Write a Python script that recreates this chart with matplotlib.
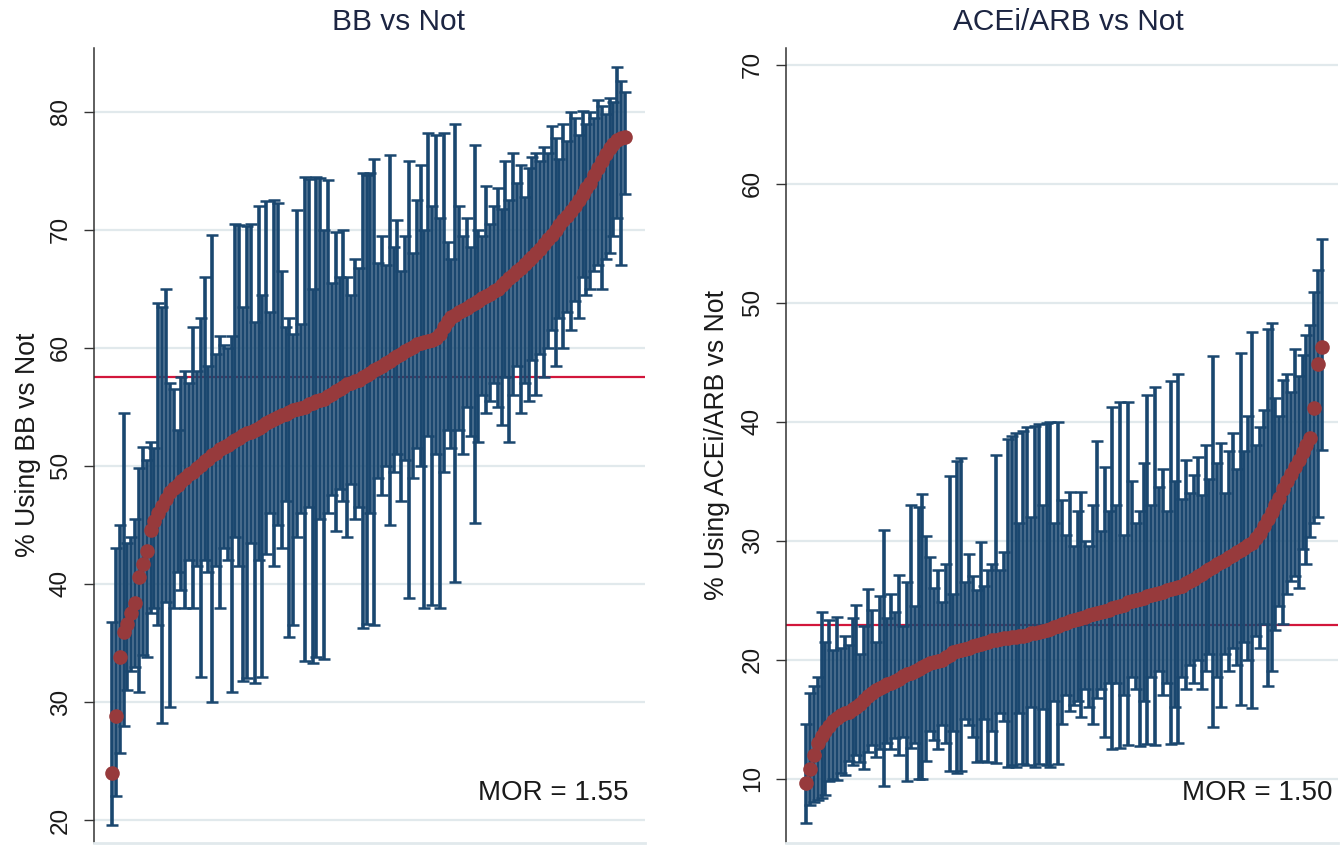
import numpy as np
import matplotlib
matplotlib.use("Agg")
import matplotlib.pyplot as plt

plt.rcParams['font.family'] = ['Liberation Sans', 'DejaVu Sans']

# hospital estimates (sorted) with 95% CI
bb_est = [24.0, 28.8, 33.8, 35.9, 36.6, 37.5, 38.4, 40.6, 41.7, 42.8,
          44.6, 45.3, 46.0, 46.6, 47.2, 47.8, 48.1, 48.4, 48.7, 49.0,
          49.3, 49.5, 49.8, 50.1, 50.4, 50.6, 50.9, 51.1, 51.4, 51.6,
          51.8, 52.0, 52.2, 52.4, 52.6, 52.8, 52.9, 53.0, 53.2, 53.4,
          53.6, 53.8, 54.0, 54.1, 54.3, 54.4, 54.6, 54.7, 54.8, 54.9,
          55.0, 55.2, 55.3, 55.5, 55.6, 55.7, 55.9, 56.1, 56.3, 56.5,
          56.7, 56.9, 57.0, 57.2, 57.3, 57.5, 57.7, 57.9, 58.1, 58.3,
          58.5, 58.7, 58.9, 59.1, 59.3, 59.5, 59.7, 59.9, 60.1, 60.3,
          60.4, 60.5, 60.6, 60.7, 60.8, 61.2, 61.8, 62.3, 62.6, 62.8,
          63.0, 63.2, 63.4, 63.6, 63.8, 64.0, 64.2, 64.4, 64.6, 64.8,
          65.0, 65.3, 65.6, 65.9, 66.2, 66.5, 66.8, 67.1, 67.4, 67.7,
          68.0, 68.4, 68.8, 69.2, 69.6, 70.0, 70.4, 70.8, 71.2, 71.6,
          72.0, 72.5, 73.0, 73.5, 74.0, 74.6, 75.2, 75.8, 76.4, 76.9,
          77.3, 77.6, 77.8, 77.9]
bb_lo = [19.6, 22.0, 25.7, 28.0, 31.0, 32.6, 33.0, 30.8, 34.0, 33.8,
         37.5, 38.0, 36.5, 28.2, 38.5, 29.6, 38.0, 41.0, 39.5, 38.0,
         42.0, 38.0, 41.5, 32.1, 42.0, 41.0, 30.0, 41.5, 38.0, 43.0,
         42.0, 30.8, 44.0, 41.5, 31.8, 32.0, 43.5, 31.6, 42.0, 32.1,
         42.5, 46.0, 41.5, 45.0, 43.0, 47.0, 35.5, 36.5, 44.0, 46.0,
         33.5, 46.5, 33.3, 33.8, 45.5, 33.6, 46.0, 47.5, 44.5, 48.0,
         47.0, 44.0, 48.5, 45.5, 46.5, 36.3, 36.6, 46.0, 36.5, 49.0,
         47.5, 50.0, 45.0, 49.5, 51.0, 47.0, 50.5, 38.8, 49.0, 51.5,
         50.0, 38.0, 52.5, 38.2, 51.0, 38.0, 49.5, 53.0, 51.5, 40.2,
         53.0, 51.0, 55.0, 52.5, 45.2, 52.0, 56.0, 54.5, 55.5, 57.0,
         55.0, 53.5, 57.5, 52.0, 56.0, 58.5, 54.5, 57.0, 55.5, 59.0,
         56.0, 59.5, 57.5, 60.0, 61.5, 58.5, 62.5, 60.0, 63.0, 61.5,
         64.0, 62.5, 66.0, 64.5, 65.0, 66.5, 67.0, 65.0, 67.5, 68.0,
         69.5, 71.0, 67.0, 73.0]
bb_hi = [36.8, 43.0, 45.0, 54.5, 43.5, 44.0, 45.5, 49.8, 51.6, 50.5,
         52.0, 51.5, 63.8, 63.5, 65.0, 57.0, 56.5, 53.0, 57.5, 58.0,
         57.0, 61.8, 58.0, 62.5, 66.0, 58.5, 69.6, 59.5, 61.0, 60.2,
         60.0, 61.0, 70.5, 70.4, 63.5, 70.3, 70.5, 62.2, 72.0, 64.5,
         72.4, 63.0, 72.5, 72.3, 66.5, 61.8, 62.5, 61.2, 71.7, 62.0,
         74.5, 74.3, 65.0, 74.5, 74.4, 70.0, 74.2, 65.5, 69.8, 66.0,
         70.0, 66.0, 64.5, 67.5, 66.8, 74.8, 74.6, 74.8, 76.0, 67.2,
         69.5, 67.0, 76.3, 68.5, 70.8, 66.5, 69.5, 75.8, 68.0, 72.5,
         75.5, 70.0, 78.2, 72.0, 78.0, 71.0, 78.2, 69.0, 67.5, 79.0,
         72.0, 69.5, 71.0, 68.5, 77.2, 70.0, 69.5, 73.7, 70.5, 72.0,
         73.5, 71.8, 75.8, 72.5, 76.5, 74.0, 75.5, 72.8, 75.2, 76.2,
         76.5, 75.8, 77.0, 76.5, 78.8, 77.8, 76.0, 79.0, 77.5, 80.0,
         79.5, 78.0, 80.1, 79.0, 80.0, 79.5, 81.0, 80.5, 79.8, 81.2,
         80.8, 83.8, 82.6, 81.7]

ace_est = [9.6, 10.8, 12.0, 13.0, 13.6, 14.0, 14.4, 14.8, 15.1, 15.3,
           15.5, 15.6, 15.8, 16.0, 16.3, 16.6, 16.9, 17.2, 17.4, 17.6,
           17.8, 17.9, 18.0, 18.2, 18.4, 18.6, 18.8, 18.9, 19.0, 19.2,
           19.4, 19.5, 19.7, 19.8, 19.9, 20.0, 20.2, 20.4, 20.6, 20.7,
           20.8, 20.9, 21.0, 21.1, 21.2, 21.3, 21.4, 21.5, 21.6, 21.6,
           21.7, 21.8, 21.8, 21.9, 21.9, 22.0, 22.0, 22.1, 22.2, 22.2,
           22.3, 22.4, 22.5, 22.6, 22.7, 22.8, 23.0, 23.1, 23.2, 23.3,
           23.4, 23.5, 23.6, 23.7, 23.8, 23.9, 24.0, 24.1, 24.2, 24.3,
           24.4, 24.5, 24.6, 24.8, 24.9, 25.0, 25.1, 25.2, 25.3, 25.4,
           25.5, 25.6, 25.7, 25.8, 25.9, 26.0, 26.1, 26.2, 26.4, 26.6,
           26.8, 27.0, 27.2, 27.4, 27.6, 27.8, 28.0, 28.2, 28.4, 28.6,
           28.8, 29.0, 29.2, 29.4, 29.6, 29.8, 30.2, 30.6, 31.2, 31.8,
           32.4, 33.0, 33.6, 34.3, 35.0, 35.6, 36.2, 36.8, 37.4, 38.0,
           38.6, 41.1, 44.8, 46.3]
ace_lo = [6.3, 7.8, 8.0, 8.2, 8.4, 8.6, 9.8, 10.0, 9.9, 10.5,
          10.3, 11.5, 11.1, 12.0, 11.4, 10.8, 12.2, 12.8, 11.8, 12.5,
          9.4, 13.0, 12.5, 13.4, 12.0, 13.5, 9.8, 12.6, 13.0, 10.0,
          10.0, 11.5, 14.0, 13.2, 12.5, 14.5, 13.0, 10.6, 14.0, 10.5,
          10.6, 15.0, 14.5, 13.5, 11.4, 11.5, 15.0, 11.4, 14.0, 11.3,
          15.5, 14.8, 11.0, 11.1, 11.0, 15.5, 11.2, 11.1, 16.0, 11.0,
          11.2, 15.8, 11.1, 11.0, 16.5, 11.2, 14.6, 17.0, 15.7, 16.2,
          16.5, 15.2, 17.5, 16.0, 14.6, 16.8, 17.5, 13.5, 18.0, 12.5,
          18.0, 12.6, 17.0, 12.8, 18.5, 17.5, 12.7, 16.5, 12.9, 18.5,
          12.8, 19.0, 17.0, 18.0, 12.9, 16.0, 13.0, 18.5, 17.5, 19.5,
          18.0, 20.0, 17.5, 19.0, 20.5, 14.3, 18.5, 16.0, 20.5, 19.0,
          21.0, 19.5, 16.2, 21.5, 20.0, 15.9, 22.0, 21.0, 23.0, 17.8,
          19.0, 22.5, 24.5, 23.0, 25.5, 26.6, 27.0, 26.0, 29.3, 28.0,
          30.3, 31.5, 32.0, 37.6]
ace_hi = [14.6, 17.2, 17.8, 18.5, 24.0, 21.5, 23.3, 20.8, 23.6, 21.0,
          22.0, 21.2, 23.5, 24.6, 20.5, 22.8, 25.9, 24.2, 21.5, 25.3,
          30.9, 23.5, 25.5, 24.0, 27.1, 22.8, 26.5, 33.0, 24.5, 32.8,
          33.9, 30.4, 28.6, 26.0, 27.5, 24.8, 28.0, 35.4, 25.5, 36.7,
          36.9, 26.5, 28.9, 27.0, 25.8, 29.9, 26.2, 27.5, 28.0, 37.2,
          27.5, 29.0, 38.5, 38.8, 39.0, 31.5, 39.2, 39.5, 32.0, 39.6,
          39.8, 33.0, 39.9, 40.0, 31.5, 40.0, 33.4, 30.5, 34.1, 29.5,
          32.5, 34.1, 30.0, 29.5, 33.0, 38.4, 30.8, 36.2, 32.5, 41.2,
          33.0, 41.6, 30.5, 41.6, 35.0, 31.5, 32.5, 36.5, 42.2, 33.0,
          42.9, 34.5, 36.0, 32.5, 43.4, 35.0, 44.0, 33.5, 36.8, 34.0,
          35.5, 37.0, 33.8, 38.0, 35.2, 45.5, 36.5, 38.2, 34.0, 37.5,
          39.0, 36.0, 45.8, 37.5, 40.5, 47.5, 38.0, 39.5, 41.0, 47.8,
          48.3, 42.0, 40.5, 43.5, 44.0, 42.5, 46.1, 43.8, 45.6, 47.3,
          48.1, 50.9, 52.7, 55.3]

panels = [
    dict(est=bb_est, lo=bb_lo, hi=bb_hi, title='BB vs Not', ylabel='% Using BB vs Not',
         ref=57.5, mor='MOR = 1.55', yticks=[20, 30, 40, 50, 60, 70, 80],
         ylim=(18.05, 85.4), px=(94, 645), data_px=(112, 625), title_x=398,
         label_x=28, mor_x=629),
    dict(est=ace_est, lo=ace_lo, hi=ace_hi, title='ACEi/ARB vs Not',
         ylabel='% Using ACEi/ARB vs Not', ref=22.9, mor='MOR = 1.50',
         yticks=[10, 20, 30, 40, 50, 60, 70], ylim=(4.58, 71.39), px=(786, 1338),
         data_px=(806, 1322), title_x=1068, label_x=717, mor_x=1332),
]

W, H = 1342, 846
navy = '#1a476f'
maroon = '#973a3c'
grid_c = '#e1e9ec'

fig = plt.figure(figsize=(W / 100, H / 100), dpi=100)

for p in panels:
    x0, x1 = p['px']
    ax = fig.add_axes([x0 / W, 3 / H, (x1 - x0) / W, 795 / H])
    est = np.array(p['est'])
    lo = np.array(p['lo'])
    hi = np.array(p['hi'])
    idx = np.arange(len(est))

    # map index range onto the pixel span the dots occupy
    d0, d1 = p['data_px']
    step = (d1 - d0) / (len(est) - 1)
    ax.set_xlim(-(d0 - x0) / step, len(est) - 1 + (x1 - d1) / step)
    ax.set_ylim(*p['ylim'])

    ax.axhline(p['ref'], color='#d2163b', lw=1.6, zorder=2)
    ax.errorbar(idx, est, yerr=[est - lo, hi - est], fmt='none', ecolor=navy,
                elinewidth=2.6, capsize=4.5, capthick=1.8, zorder=3)
    ax.plot(idx, est, 'o', color=maroon, markersize=10.5, markeredgewidth=0, zorder=4)

    ax.set_yticks(p['yticks'])
    ax.yaxis.grid(True, color=grid_c, lw=1.6)
    ax.set_axisbelow(True)
    ax.set_xticks([])
    ax.tick_params(axis='y', length=7, width=1.0, color='#333333', pad=17,
                   labelsize=17.5, labelcolor='#1a1a1a')
    for lab in ax.get_yticklabels():
        lab.set_rotation(90)
        lab.set_ha('center')
        lab.set_va('center')

    for s in ['top', 'right']:
        ax.spines[s].set_visible(False)
    ax.spines['left'].set_color('#333333')
    ax.spines['left'].set_linewidth(1.1)
    ax.spines['bottom'].set_color(grid_c)
    ax.spines['bottom'].set_linewidth(2)

    fig.text(p['title_x'] / W, 1 - 22 / H, p['title'], ha='center', va='center',
             fontsize=21.5, color='#1c2542')
    fig.text(p['label_x'] / W, 1 - 445 / H, p['ylabel'], rotation=90,
             ha='center', va='center', fontsize=19.2, color='#1a1a1a')
    fig.text(p['mor_x'] / W, 1 - 793 / H, p['mor'], ha='right', va='center',
             fontsize=20, color='#1a1a1a')

fig.savefig('out.png', dpi=100)
